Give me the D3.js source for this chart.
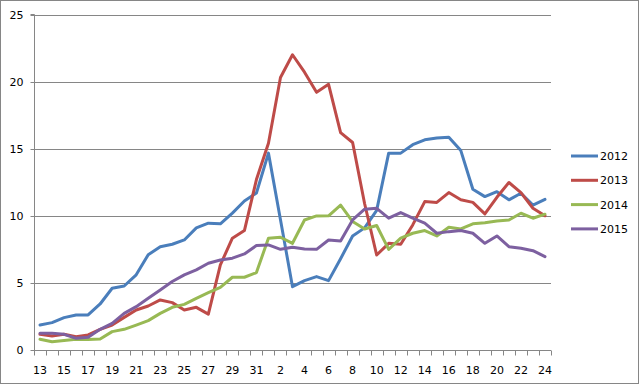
<!DOCTYPE html>
<html><head><meta charset="utf-8">
<script src="https://cdn.jsdelivr.net/npm/d3@7"></script>
<style>body{margin:0;background:#fff}svg{display:block}text{font-family:"DejaVu Sans",Verdana,sans-serif;font-size:11px;fill:#000}</style>
</head><body>
<svg id="c" width="641" height="385"></svg>
<script>
const categories = ["13","14","15","16","17","18","19","20","21","22","23","24","25","26","27","28","29","30","31","1","2","3","4","5","6","7","8","9","10","11","12","13","14","15","16","17","18","19","20","21","22","23","24"];
const s2012 = [1.86,2.04,2.41,2.61,2.61,3.43,4.6,4.77,5.6,7.1,7.7,7.88,8.2,9.1,9.45,9.4,10.2,11.1,11.7,14.67,9.7,4.72,5.17,5.47,5.17,6.8,8.5,9.1,10.4,14.67,14.67,15.3,15.66,15.8,15.86,14.86,11.98,11.43,11.8,11.19,11.68,10.8,11.23];
const s2013 = [1.17,1.04,1.17,0.99,1.12,1.54,1.86,2.43,2.98,3.28,3.73,3.53,2.98,3.18,2.67,6.34,8.33,8.9,12.7,15.4,20.3,22.0,20.7,19.2,19.8,16.2,15.46,10.9,7.08,7.95,7.88,9.32,11.06,11.0,11.73,11.19,11.0,10.14,11.38,12.48,11.73,10.56,10.0];
const s2014 = [0.8,0.62,0.7,0.8,0.78,0.82,1.37,1.54,1.86,2.19,2.73,3.18,3.4,3.85,4.27,4.67,5.42,5.42,5.77,8.33,8.4,7.95,9.69,9.99,10.0,10.8,9.57,9.02,9.28,7.5,8.33,8.7,8.9,8.5,9.15,9.02,9.4,9.49,9.62,9.69,10.19,9.82,10.12];
const s2015 = [1.24,1.24,1.17,0.87,0.95,1.54,1.99,2.73,3.23,3.85,4.47,5.1,5.6,5.97,6.46,6.71,6.84,7.16,7.78,7.83,7.5,7.66,7.53,7.5,8.2,8.13,9.69,10.49,10.56,9.82,10.24,9.82,9.45,8.7,8.82,8.9,8.7,7.95,8.5,7.7,7.58,7.4,6.96];
const seriesNames = ["2012","2013","2014","2015"];
const seriesColors = ["#4A7EBB","#BE4B48","#98B954","#7D60A0"];
const yTicks = [0,5,10,15,20,25];

const svg = d3.select("#c");
const L = 34, R = 551, T = 14.5, B = 350;
svg.append("rect").attr("x",0.5).attr("y",0.5).attr("width",638).attr("height",383)
  .attr("fill","#fff").attr("stroke","#868686");

const idx = categories.map((d,i)=>i);
const x = d3.scaleBand().domain(idx).range([L,R]);
const y = d3.scaleLinear().domain([0,25]).range([B,T]);

// gridlines
svg.append("g").selectAll("line").data(yTicks.filter(t=>t>0)).join("line")
  .attr("x1",L).attr("x2",R).attr("y1",d=>Math.round(y(d))+0.5).attr("y2",d=>Math.round(y(d))+0.5)
  .attr("stroke","#868686").attr("stroke-width",1);

// y axis
const ya = svg.append("g").attr("transform",`translate(${L+0.5},0)`)
  .call(d3.axisLeft(y).tickValues(yTicks).tickSize(4).tickPadding(7).tickFormat(d3.format("d")));
ya.select(".domain").attr("stroke","#868686").attr("d",`M-4,${T}H0V${B}`);
ya.selectAll(".tick line").attr("stroke","#868686");
ya.selectAll(".tick").attr("transform",d=>`translate(0,${Math.round(y(d))+0.5})`);
ya.selectAll("text").style("font-size","11px").attr("fill","#000");

// x axis
const xa = svg.append("g").attr("transform",`translate(0,${B+0.5})`);
xa.append("line").attr("x1",L).attr("x2",R).attr("stroke","#868686");
const bounds = d3.range(categories.length+1).map(i=>L + i*x.bandwidth());
xa.selectAll("line.t").data(bounds).join("line").attr("class","t")
  .attr("x1",d=>Math.round(d)+0.5).attr("x2",d=>Math.round(d)+0.5).attr("y1",0).attr("y2",5)
  .attr("stroke","#868686");
xa.selectAll("text").data(idx.filter(i=>i%2===0)).join("text")
  .attr("x",i=>x(i)+x.bandwidth()/2).attr("y",23).attr("text-anchor","middle")
  .text(i=>categories[i]);

// lines
const data = [s2012,s2013,s2014,s2015];
const line = d3.line().x((d,i)=>x(i)+x.bandwidth()/2).y(d=>y(d));
svg.append("g").selectAll("path").data(data).join("path")
  .attr("d",line).attr("fill","none").attr("stroke",(d,i)=>seriesColors[i])
  .attr("stroke-width",3).attr("stroke-linejoin","round").attr("stroke-linecap","round");

// legend
const lg = svg.append("g").selectAll("g").data(seriesNames).join("g")
  .attr("transform",(d,i)=>`translate(571,${156 + i*24.3})`);
lg.append("line").attr("x1",0).attr("x2",27).attr("stroke",(d,i)=>seriesColors[i]).attr("stroke-width",3);
lg.append("text").attr("x",29).attr("y",4).text(d=>d);
</script>
</body></html>
